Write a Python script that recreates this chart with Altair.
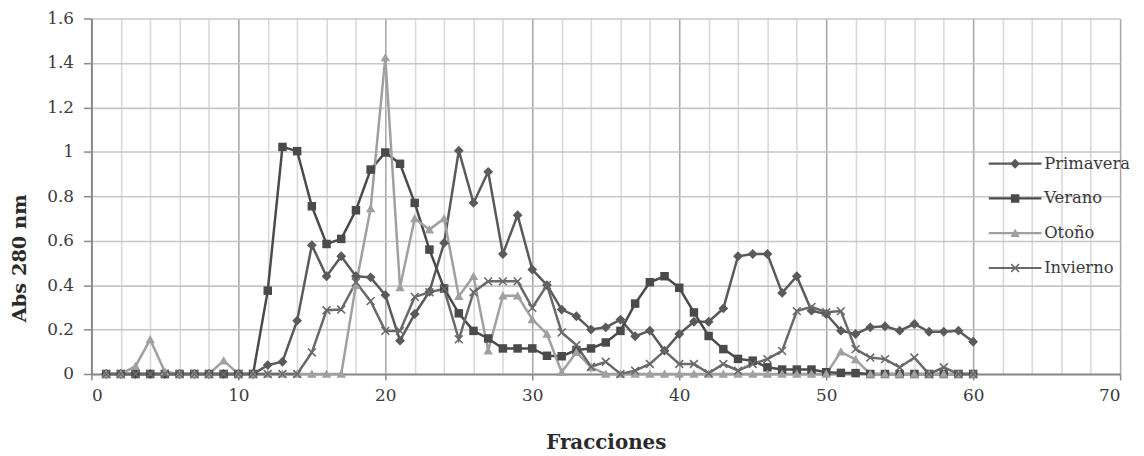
import altair as alt
import pandas as pd

fracciones = list(range(1, 61))

primavera = [0, 0, 0, 0, 0, 0, 0, 0, 0, 0,
             0, 0.04, 0.055, 0.24, 0.58, 0.44, 0.53, 0.44, 0.435, 0.355,
             0.15, 0.27, 0.37, 0.59, 1.005, 0.77, 0.91, 0.54, 0.715, 0.47,
             0.40, 0.29, 0.26, 0.20, 0.21, 0.245, 0.17, 0.195, 0.105, 0.18,
             0.235, 0.235, 0.295, 0.53, 0.54, 0.54, 0.365, 0.44, 0.285, 0.27,
             0.195, 0.18, 0.21, 0.215, 0.195, 0.225, 0.19, 0.19, 0.195, 0.145]

verano = [0, 0, 0, 0, 0, 0, 0, 0, 0, 0,
          0, 0.375, 1.022, 1.003, 0.755, 0.585, 0.608, 0.737, 0.92, 0.997,
          0.946, 0.77, 0.56, 0.385, 0.273, 0.194, 0.16, 0.115, 0.115, 0.115,
          0.082, 0.08, 0.108, 0.115, 0.142, 0.194, 0.317, 0.413, 0.44, 0.388,
          0.277, 0.171, 0.112, 0.068, 0.06, 0.03, 0.02, 0.02, 0.02, 0.008,
          0.005, 0.004, 0, 0, 0, 0, 0, 0, 0, 0]

otono = [0, 0, 0.035, 0.155, 0.01, 0, 0, 0, 0.06, 0,
         0, 0, 0, 0, 0, 0, 0, 0.40, 0.745, 1.425,
         0.39, 0.70, 0.65, 0.70, 0.35, 0.44, 0.105, 0.352, 0.352, 0.246,
         0.18, 0.008, 0.098, 0.03, 0, 0, 0, 0, 0, 0,
         0, 0, 0, 0, 0, 0, 0, 0, 0, 0,
         0.10, 0.065, 0, 0, 0, 0, 0, 0, 0, 0]

invierno = [0, 0, 0, 0, 0, 0, 0, 0, 0, 0,
            0, 0, 0, 0, 0.097, 0.287, 0.29, 0.413, 0.328, 0.194,
            0.194, 0.347, 0.368, 0.383, 0.156, 0.368, 0.417, 0.417, 0.417, 0.298,
            0.40, 0.187, 0.13, 0.033, 0.055, 0, 0.015, 0.045, 0.104, 0.045,
            0.045, 0.003, 0.045, 0.015, 0.045, 0.067, 0.104, 0.283, 0.302, 0.278,
            0.283, 0.112, 0.074, 0.067, 0.03, 0.074, 0, 0.03, 0, 0]

series = ["Primavera", "Verano", "Otoño", "Invierno"]
colors = ["#5a5a5a", "#4a4a4a", "#a0a0a0", "#6a6a6a"]

x_ticks = list(range(0, 71, 2))
y_ticks = [0, 0.2, 0.4, 0.6, 0.8, 1.0, 1.2, 1.4, 1.6]

# marker outlines (unit coordinates)
m_diamond = "M0,-1.1L1.1,0L0,1.1L-1.1,0Z"
m_square = "M-0.95,-0.95H0.95V0.95H-0.95Z"
m_triangle = "M0,-1L1.05,0.85H-1.05Z"
m_x = "M-1,-0.75L-0.75,-1L1,0.75L0.75,1ZM0.75,-1L1,-0.75L-0.75,1L-1,0.75Z"
markers = [m_diamond, m_square, m_triangle, m_x]

leg_line = "M-5.9,-0.25H5.9V0.25H-5.9Z"
legend_symbols = [leg_line + m for m in markers]

rows = []
for name, vals, shp, col in zip(series, [primavera, verano, otono, invierno], markers, colors):
    for f, v in zip(fracciones, vals):
        rows.append({"Fracciones": f, "Abs": v, "serie": name, "shp": shp, "col": col})
df = pd.DataFrame(rows)

FONT = "DejaVu Serif"

x_enc = alt.X(
    "Fracciones:Q",
    scale=alt.Scale(domain=[0, 70], nice=False),
    axis=alt.Axis(
        values=x_ticks,
        labelExpr="datum.value % 10 == 0 ? datum.label : ''",
        labelOverlap=False,
        grid=True,
        gridColor={"condition": {"test": "datum.value % 10 == 0", "value": "#a9a9a9"}, "value": "#d9d9d9"},
        gridWidth=1.6,
        ticks=True,
        tickColor={"condition": {"test": "datum.value % 10 == 0", "value": "#8a8a8a"}, "value": "transparent"},
        tickSize=6,
        tickWidth=1.5,
        domainColor="#8a8a8a",
        domainWidth=2,
        labelFont=FONT,
        labelFontSize=17,
        labelColor="#3c3c3c",
        labelPadding=8,
        title="Fracciones",
        titleFont=FONT,
        titleFontSize=20,
        titleFontWeight="bold",
        titleColor="#2a2a2a",
        titleY=69,
        titleBaseline="middle",
    ),
)

y_enc = alt.Y(
    "Abs:Q",
    scale=alt.Scale(domain=[0, 1.6], nice=False),
    axis=alt.Axis(
        values=y_ticks,
        format=".1~f",
        grid=True,
        gridColor="#c6c6c6",
        gridWidth=1.6,
        tickColor="#8a8a8a",
        tickSize=8,
        tickWidth=1.5,
        domainColor="#8a8a8a",
        domainWidth=2,
        labelFont=FONT,
        labelFontSize=17,
        labelColor="#3c3c3c",
        labelPadding=10,
        title="Abs 280 nm",
        titleFont=FONT,
        titleFontSize=19.5,
        titleFontWeight="bold",
        titleColor="#2a2a2a",
        titleX=-72,
        titleY=241,
        titleAngle=270,
        titleAlign="center",
        titleBaseline="middle",
    ),
)

lines = alt.Chart(df).mark_line(strokeWidth=2.5).encode(
    x=x_enc,
    y=y_enc,
    color=alt.Color("col:N", scale=None),
    detail="serie:N",
)

points = alt.Chart(df).mark_point(filled=True, opacity=1, size=81).encode(
    x=x_enc,
    y=y_enc,
    color=alt.Color("col:N", scale=None),
    shape=alt.Shape("shp:N", scale=None),
)

legend_props = dict(
    orient="none",
    legendX=922,
    legendY=138,
    title=None,
    labelFont=FONT,
    labelFontSize=16.5,
    labelColor="#3a3a3a",
    symbolSize=81,
    symbolStrokeWidth=0,
    labelOffset=21,
    rowPadding=18,
    padding=0,
)

legend_layer = alt.Chart(df).transform_filter("false").mark_point(filled=True, opacity=1).encode(
    x=x_enc,
    y=y_enc,
    color=alt.Color("serie:N", scale=alt.Scale(domain=series, range=colors),
                    legend=alt.Legend(**legend_props)),
    shape=alt.Shape("serie:N", scale=alt.Scale(domain=series, range=legend_symbols),
                    legend=alt.Legend(**legend_props)),
)

chart = alt.layer(lines, points, legend_layer).properties(
    width=1036,
    height=358,
    padding={"left": 84, "top": 9, "right": 16, "bottom": 81},
    autosize=alt.AutoSizeParams(type="none"),
    background="white",
).configure_view(strokeWidth=0)

chart.save("out.html", embed_options={"renderer": "svg", "actions": False})
